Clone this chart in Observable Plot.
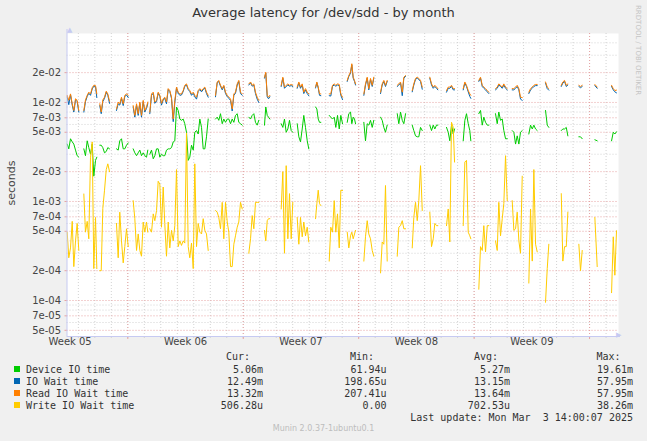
<!DOCTYPE html>
<html><head><meta charset="utf-8">
<script src="https://cdn.jsdelivr.net/npm/d3@7"></script>
<script src="https://cdn.jsdelivr.net/npm/@observablehq/plot@0.6"></script>
<style>
html,body{margin:0;padding:0;background:#f0f0f0;}
#page{position:relative;width:647px;height:441px;overflow:hidden;background:#f0f0f0;}
#chart{position:absolute;left:0;top:0;}
.a{position:absolute;white-space:pre;line-height:12px;}
.mono{font-family:"DejaVu Sans Mono",monospace;font-size:10px;color:#333;}
.r{text-align:right;}
.sw{position:absolute;width:6px;height:6px;}
</style></head>
<body><div id="page"><div id="chart"></div></div>
<script>
// ---- data ----
// sample times, hours after 2025-01-29 07:30 UTC; null values mark gaps
const hours = [
0.3,2.6,5.1,7.6,9.9,12.4,14.8,17.2,19,
24.5,26.9,29.4,31.7,34.2,36.7,39.0,41.5,43.4,45,
47.7,49.8,52.1,54.6,57.1,59.4,61.9,66,
72.0,74.5,76.8,79.3,81.8,84.1,86.6,89.1,92,
96.3,98.7,101.2,103.6,106.0,108.4,110.9,113.2,115.7,117.6,118.6,
120.5,123.0,125.5,127.8,130.3,132.7,135.1,137.5,140.0,142.3,144.8,147.3,149.6,152.1,154.6,156.9,
159.4,161.8,164.2,166.6,169.1,171.4,173.9,176.4,178.7,181.2,183.7,186.0,188.5,
190.9,193.3,195.8,198.2,200.6,203.0,205.5,210,
216.1,218.6,220.9,223.4,225.9,228.2,230.7,233.2,235.5,238.0,240.4,242.8,245.2,247.7,250.0,252.5,255.0,259,
264.6,267.1,269.5,271.9,274.3,276.8,279.1,283,
287.4,289.3,291.4,293.3,295.2,300,
311.7,314.1,316.5,319.0,321.4,323.8,326.3,328.6,331,
335.0,337.4,339.8,342.3,344.6,347.1,349.6,351.9,356,
361.7,363.6,365.6,367.5,369.4,375,
381.6,383.9,386.4,388.9,391.2,393.7,396.2,398.5,401.0,404,
407.8,410.1,412.6,414.5,416.5,418.4,419.9,425,
432.0,434.4,436.9,439.2,441.7,444.2,446.5,450,
456.3,458.7,461.1,463.5,466.0,472,
480.6,482.9,485.4,487.9,490.2,492.7,497,
502.4,504.7,507.2,509.7,512.0,514.5,517.0,522,
528.0,530.5,533.0,535.3,537.8,539.7,545,
552.3,554.8,557.1,559.6,562.1,564.0,569,
576.6,579.0,581.4,583.9,586.2,587.7,593,
599.3,601.8,604.3,606.6,609.1,611.6,613.9,618,
623.6,626.1,628.4,630.9,633.4,635.7,638.2,640.7,644,
647.9,650.3,652.8,655.2,657.6,660.0,662.5,667,
672.1,674.6,677.1,679.4,681.9,684.3,690,
696.4,698.9,701.2,710,
719.3,721.6,724.1,726.6,728.9,736,
744.9,747.3,749.8,760,
768.2,771.6,782,
792.5,795.0,797.3,799.7
];
const deviceIO = [
0.0038,0.0034,0.0043,0.0040,0.0038,0.0033,0.0029,0.0028,null,
0.0034,0.0029,0.0041,0.0035,0.0030,0.0038,0.0018,0.0026,0.0028,null,
0.0037,0.0037,0.0035,0.0031,0.0032,0.0035,0.0034,null,
0.0034,0.0033,0.0041,0.0043,0.0034,0.0034,0.0037,0.0039,null,
0.0034,0.0031,0.0029,0.0031,0.0033,0.0029,0.0031,0.0029,0.0028,0.0033,null,
0.0030,0.0033,0.0027,0.0029,0.0034,0.0034,0.0028,0.0030,0.0029,0.0029,0.0033,0.0034,0.0034,0.0035,0.0040,0.0041,
0.0090,0.0083,0.0068,0.0066,0.0068,0.0061,0.0050,0.0026,0.0028,0.0037,0.0033,0.0050,0.0052,
0.0048,0.0068,0.0056,0.0034,0.0034,0.0045,0.0068,null,
0.0068,0.0071,0.0066,0.0077,0.0061,0.0068,0.0063,0.0068,0.0068,0.0061,0.0068,0.0063,0.0074,0.0077,0.0063,0.0061,0.0059,null,
0.0071,0.0068,0.0074,0.0077,0.0063,0.0059,0.0066,null,
0.0059,0.0090,0.0074,0.0071,0.0068,null,
0.0061,0.0056,0.0068,0.0050,0.0054,0.0066,0.0052,0.0050,null,
0.0061,0.0045,0.0040,0.0054,0.0074,0.0056,0.0041,0.0034,null,
0.0090,0.0086,0.0068,0.0063,0.0063,null,
0.0074,0.0071,0.0068,0.0071,0.0056,0.0074,0.0054,0.0074,0.0061,null,
0.0063,0.0077,0.0080,0.0061,0.0071,0.0068,0.0061,null,
0.0063,0.0041,0.0061,0.0059,0.0066,0.0056,0.0066,null,
0.0071,0.0066,0.0056,0.0050,0.0059,null,
0.0077,0.0061,0.0080,0.0066,0.0061,0.0077,null,
0.0059,0.0052,0.0046,0.0045,0.0045,0.0056,0.0052,null,
0.0059,0.0052,0.0059,0.0054,0.0059,0.0059,null,
0.0056,0.0050,0.0041,0.0059,0.0048,0.0054,null,
0.0041,0.0066,0.0077,0.0061,0.0052,0.0041,null,
0.0077,0.0083,0.0059,0.0071,0.0063,0.0059,0.0059,null,
0.0077,0.0061,0.0080,0.0066,0.0068,0.0052,0.0043,0.0043,null,
0.0052,0.0050,0.0038,0.0046,0.0038,0.0050,0.0052,null,
0.0048,0.0059,0.0054,0.0059,0.0054,0.0052,null,
0.0083,0.0059,0.0056,null,
0.0052,0.0054,0.0054,0.0056,0.0046,null,
0.0045,0.0045,0.0043,null,
0.0042,0.0041,null,
0.0041,0.0050,0.0048,0.00506
];
const ioWait = [
0.0114,0.0095,0.0120,0.0094,0.0080,0.0106,0.0102,0.0080,null,
0.0080,0.0102,0.0115,0.0124,0.0118,0.0137,0.0146,0.0145,0.0112,null,
0.0093,0.0077,0.0102,0.0110,0.0127,0.0118,0.0098,null,
0.0083,0.0097,0.0094,0.0110,0.0093,0.0115,0.0119,0.0112,null,
0.0090,0.0071,0.0094,0.0074,0.0098,0.0071,0.0102,0.0080,0.0087,0.0097,null,
0.0077,0.0118,0.0124,0.0098,0.0102,0.0124,0.0115,0.0094,0.0106,0.0110,0.0097,0.0135,0.0129,0.0110,0.0064,0.0100,
0.0140,0.0124,0.0118,0.0119,0.0129,0.0146,0.0150,0.0135,0.0129,0.0118,0.0124,0.0114,0.0108,
0.0129,0.0135,0.0128,0.0135,0.0140,0.0123,0.0113,null,
0.0114,0.0158,0.0163,0.0146,0.0134,0.0146,0.0123,0.0115,0.0110,0.0105,0.0082,0.0118,0.0124,0.0150,0.0163,0.0123,0.0118,null,
0.0150,0.0158,0.0146,0.0150,0.0123,0.0108,0.0100,null,
0.0176,0.0198,0.0114,0.0109,0.0114,null,
0.0145,0.0176,0.0139,0.0145,0.0150,0.0146,0.0148,0.0145,null,
0.0139,0.0157,0.0139,0.0150,0.0123,0.0134,0.0123,0.0117,null,
0.0140,0.0158,0.0140,0.0118,0.0117,null,
0.0117,0.0116,0.0146,0.0150,0.0146,0.0150,0.0148,0.0118,0.0107,null,
0.0163,0.0183,0.0198,0.0240,0.0176,0.0163,0.0150,null,
0.0118,0.0150,0.0176,0.0134,0.0171,0.0145,0.0176,null,
0.0123,0.0150,0.0163,0.0145,0.0163,null,
0.0145,0.0150,0.0157,0.0117,0.0176,0.0183,null,
0.0128,0.0150,0.0171,0.0176,0.0171,0.0163,0.0136,null,
0.0176,0.0150,0.0139,0.0145,0.0139,0.0134,null,
0.0127,0.0139,0.0139,0.0145,0.0134,0.0134,null,
0.0134,0.0157,0.0145,0.0128,0.0115,0.0110,null,
0.0163,0.0176,0.0145,0.0139,0.0134,0.0128,0.0123,null,
0.0134,0.0139,0.0150,0.0145,0.0139,0.0150,0.0139,0.0134,null,
0.0134,0.0134,0.0139,0.0145,0.0134,0.0108,0.0105,null,
0.0123,0.0134,0.0139,0.0145,0.0148,0.0148,null,
0.0157,0.0138,0.0133,null,
0.0145,0.0157,0.0163,0.0145,0.0150,null,
0.0145,0.0141,0.0145,null,
0.0148,0.0139,null,
0.0145,0.0134,0.0128,0.01249
];
const readWait = [
0.0118,0.0105,0.0122,0.0097,0.0083,0.0109,0.0105,0.0083,null,
0.0083,0.0106,0.0118,0.0127,0.0122,0.0141,0.0149,0.0148,0.0122,null,
0.0097,0.0080,0.0106,0.0113,0.0130,0.0122,0.0103,null,
0.0086,0.0101,0.0097,0.0113,0.0097,0.0118,0.0122,0.0118,null,
0.0093,0.0074,0.0097,0.0077,0.0101,0.0074,0.0105,0.0083,0.0090,0.0101,null,
0.0080,0.0122,0.0127,0.0101,0.0105,0.0127,0.0118,0.0098,0.0109,0.0113,0.0101,0.0138,0.0132,0.0113,0.0068,0.0105,
0.0143,0.0127,0.0122,0.0122,0.0132,0.0149,0.0154,0.0138,0.0132,0.0122,0.0127,0.0118,0.0113,
0.0132,0.0138,0.0132,0.0138,0.0143,0.0127,0.0118,null,
0.0118,0.0161,0.0167,0.0149,0.0138,0.0149,0.0127,0.0118,0.0113,0.0109,0.0086,0.0122,0.0127,0.0154,0.0167,0.0127,0.0122,null,
0.0154,0.0161,0.0149,0.0154,0.0127,0.0113,0.0105,null,
0.0180,0.0202,0.0118,0.0113,0.0118,null,
0.0149,0.0180,0.0143,0.0149,0.0154,0.0149,0.0152,0.0149,null,
0.0143,0.0161,0.0143,0.0154,0.0127,0.0138,0.0127,0.0122,null,
0.0143,0.0161,0.0143,0.0122,0.0122,null,
0.0122,0.0122,0.0149,0.0154,0.0149,0.0154,0.0152,0.0122,0.0113,null,
0.0167,0.0187,0.0202,0.0246,0.0180,0.0167,0.0154,null,
0.0122,0.0154,0.0180,0.0138,0.0175,0.0149,0.0180,null,
0.0127,0.0154,0.0167,0.0149,0.0167,null,
0.0149,0.0154,0.0161,0.0127,0.0180,0.0187,null,
0.0132,0.0154,0.0175,0.0180,0.0175,0.0167,0.0143,null,
0.0180,0.0154,0.0143,0.0149,0.0143,0.0138,null,
0.0132,0.0143,0.0143,0.0149,0.0138,0.0138,null,
0.0138,0.0161,0.0149,0.0132,0.0122,0.0118,null,
0.0167,0.0180,0.0149,0.0143,0.0138,0.0132,0.0127,null,
0.0138,0.0143,0.0154,0.0149,0.0143,0.0154,0.0143,0.0138,null,
0.0138,0.0138,0.0143,0.0149,0.0138,0.0113,0.0112,null,
0.0127,0.0138,0.0143,0.0149,0.0152,0.0152,null,
0.0161,0.0143,0.0138,null,
0.0149,0.0161,0.0167,0.0149,0.0154,null,
0.0149,0.0145,0.0149,null,
0.0152,0.0143,null,
0.0149,0.0138,0.0132,0.01332
];
const writeWait = [
0.00049,0.00027,0.00034,0.00063,0.00022,0.00040,0.00060,0.00032,null,
0.00119,0.00049,0.00063,0.00042,0.0028,0.0040,0.00021,0.00069,0.00021,null,
0.00020,0.00020,0.00085,0.0013,0.0021,0.0024,0.0020,null,
0.00060,0.00027,0.00078,0.00040,0.00024,0.00035,0.00053,0.00035,null,
0.00102,0.00067,0.00032,0.00047,0.00032,0.00028,0.00062,0.00049,0.00062,0.00049,null,
0.00053,0.00049,0.00075,0.00064,0.00081,0.0016,0.0015,0.00055,0.0014,0.00060,0.00028,0.00062,0.00034,0.00051,0.00040,0.00057,
0.0021,0.00035,0.00040,0.00036,0.00040,0.00038,0.0049,0.00035,0.00027,0.00038,0.00021,0.0024,0.00035,
0.00060,0.00049,0.00047,0.00067,0.00051,0.00047,0.00032,null,
0.00081,0.00078,0.00069,0.00053,0.00098,0.00042,0.00098,0.00062,0.00049,0.00022,0.00022,0.00037,0.00045,0.00055,0.00062,0.00098,0.00084,null,
0.00030,0.00042,0.00072,0.00053,0.00098,0.00098,0.00098,null,
0.00051,0.00040,0.00064,0.00067,0.00067,null,
0.00084,0.0020,0.00030,0.0023,0.00042,0.0012,0.00042,0.00098,null,
0.00069,0.00037,0.00069,0.00044,0.00062,0.00045,0.00055,0.00039,null,
0.00067,0.00095,0.0013,0.00095,0.00091,null,
0.00025,0.00055,0.00049,0.00102,0.00049,0.00075,0.00034,0.0013,0.00129,null,
0.00049,0.00034,0.00045,0.00049,0.00042,0.00047,0.00051,null,
0.00025,0.00044,0.00064,0.00047,0.00042,0.00032,0.00028,null,
0.00019,0.00039,0.00037,0.00145,0.00025,null,
0.00028,0.00055,0.00057,0.00064,0.00053,0.00053,null,
0.00034,0.00069,0.00098,0.00064,0.00102,0.0023,0.00081,null,
0.00078,0.00035,0.00042,0.00060,0.00057,0.00057,null,
0.00057,0.00084,0.00039,0.0063,0.0056,0.0025,null,
0.00057,0.0025,0.0026,0.00049,0.00045,0.00042,null,
0.00013,0.00035,0.00032,0.00057,0.00031,0.00057,0.00057,null,
0.00040,0.00032,0.00098,0.00045,0.00067,0.00095,0.0029,0.00102,null,
0.00102,0.00051,0.00053,0.00078,0.00040,0.00030,0.0018,null,
0.00015,0.00084,0.00025,0.0021,0.00037,0.00031,null,
0.000096,0.00021,0.00037,null,
0.0012,0.00025,0.00035,0.00035,0.00078,null,
0.00037,0.00020,0.00032,null,
0.00069,0.00022,null,
0.00012,0.00044,0.00018,0.000506
];
const yMajor = [5e-5,7e-5,1e-4,2e-4,5e-4,7e-4,1e-3,2e-3,5e-3,7e-3,1e-2,2e-2];
const yLabels = ["5e-05","7e-05","1e-04","2e-04","5e-04","7e-04","1e-03","2e-03","5e-03","7e-03","1e-02","2e-02"];
const yMinor = [6e-5,8e-5,9e-5,3e-4,4e-4,6e-4,8e-4,9e-4,3e-3,4e-3,6e-3,8e-3,9e-3,3e-2,4e-2];
const weekCenters = ["2025-01-29T12:00Z","2025-02-05T12:00Z","2025-02-12T12:00Z","2025-02-19T12:00Z","2025-02-26T12:00Z"];
const weekLabels = ["Week 05","Week 06","Week 07","Week 08","Week 09"];
const seriesNames = ["Device IO time","IO Wait time","Read IO Wait time","Write IO Wait time"];
const seriesColors = ["#00CC00","#0066B3","#FF8000","#FFCC00"];
const curVals = ["5.06m","12.49m","13.32m","506.28u"];
const minVals = ["61.94u","198.65u","207.41u","0.00"];
const avgVals = ["5.27m","13.15m","13.64m","702.53u"];
const maxVals = ["19.61m","57.95m","57.95m","38.26m"];

// ---- build ----
for (const a of [deviceIO, ioWait, readWait, writeWait]) if (a.length !== hours.length) throw new Error("length mismatch " + a.length + " vs " + hours.length);
const t0 = Date.UTC(2025, 0, 29, 7, 30);
const t1 = t0 + 802.6 * 3600e3;
const rows = hours.map((h, i) => ({t: new Date(t0 + h * 3600e3), dev: deviceIO[i], io: ioWait[i], rd: readWait[i], wr: writeWait[i]}));
const days = d3.utcDay.range(new Date(t0), new Date(t1));
const sundays = d3.utcSunday.range(new Date(t0), new Date(t1));
const ax = "#c6caf2", minorC = "#d2d2d2", majorC = "#e6a3a3";

const plot = Plot.plot({
  width: 647, height: 352,
  marginLeft: 66.5, marginRight: 29, marginTop: 33, marginBottom: 16,
  style: {background: "transparent", fontFamily: "DejaVu Sans", fontSize: "10px", overflow: "visible"},
  x: {type: "utc", domain: [new Date(t0), new Date(t1)], axis: null},
  y: {type: "log", domain: [4.33e-5, 0.0497], axis: null},
  marks: [
    Plot.frame({fill: "white", stroke: "none"}),
    Plot.ruleX(days, {stroke: minorC, strokeDasharray: "1,2"}),
    Plot.ruleY(yMinor, {stroke: minorC, strokeDasharray: "1,2"}),
    Plot.ruleX(sundays, {stroke: majorC, strokeDasharray: "1,2"}),
    Plot.ruleY(yMajor, {stroke: majorC, strokeDasharray: "1,2"}),
    Plot.ruleY(yMajor, {stroke: majorC, insetRight: 549, dx: -2}),
    Plot.ruleX(days, {stroke: minorC, insetTop: 301, dy: 2}),
    Plot.ruleX(sundays, {stroke: majorC, insetTop: 300, dy: 3}),
    Plot.line(rows, {x: "t", y: "dev", stroke: seriesColors[0], strokeWidth: 1}),
    Plot.line(rows, {x: "t", y: "io", stroke: seriesColors[1], strokeWidth: 1}),
    Plot.line(rows, {x: "t", y: "rd", stroke: seriesColors[2], strokeWidth: 1}),
    Plot.line(rows, {x: "t", y: "wr", stroke: seriesColors[3], strokeWidth: 1}),
    Plot.ruleX([new Date(t0)], {stroke: ax, insetTop: -4}),
    Plot.ruleY([4.33e-5], {stroke: ax, insetRight: -2}),
    Plot.text(["\u25B2"], {frameAnchor: "top-left", dy: -6, text: d => d, fill: ax, fontSize: 7}),
    Plot.text(["\u25B6"], {frameAnchor: "bottom-right", dx: 3, text: d => d, fill: ax, fontSize: 7}),
    Plot.text(yMajor, {y: d => d, text: (d, i) => yLabels[i], frameAnchor: "left", textAnchor: "end", dx: -6, fill: "#444", fontSize: 10}),
    Plot.text(weekCenters, {x: d => new Date(d), text: (d, i) => weekLabels[i], frameAnchor: "bottom", dy: 8, fill: "#444", fontSize: 10})
  ]
});
document.getElementById("chart").appendChild(plot);

// ---- html text ----
const page = document.getElementById("page");
function add(txt, css, cls) {
  const d = document.createElement("div");
  d.className = "a " + (cls || "");
  d.textContent = txt;
  Object.assign(d.style, css);
  page.appendChild(d);
  return d;
}
add("Average latency for /dev/sdd - by month", {left: "0px", width: "647px", top: "6px", textAlign: "center", font: "13px 'DejaVu Sans'", color: "#333", lineHeight: "14px"});
add("seconds", {left: "11px", top: "183px", font: "11px 'DejaVu Sans'", color: "#444", transform: "translate(-50%,-50%) rotate(-90deg)"});
add("RRDTOOL / TOBI OETIKER", {left: "633px", top: "5px", font: "7px 'DejaVu Sans'", color: "#c4c4c4", writingMode: "vertical-rl", lineHeight: "10px"});
const hdr = [["Cur:", 250], ["Min:", 374], ["Avg:", 498], ["Max:", 620.5]];
for (const [t, r] of hdr) add(t, {left: (r - 100) + "px", width: "100px", top: "351px"}, "mono r");
const rowsY = [369.5, 381.5, 393.5, 405.5];
const cols = [[curVals, 263], [minVals, 386.5], [avgVals, 510], [maxVals, 633]];
seriesNames.forEach((n, i) => {
  const y = rowsY[i];
  const sw = document.createElement("div");
  sw.className = "sw";
  Object.assign(sw.style, {left: "14px", top: (y - 3.5) + "px", background: seriesColors[i]});
  page.appendChild(sw);
  add(n, {left: "26px", top: (y - 6) + "px"}, "mono");
  for (const [arr, r] of cols) add(arr[i], {left: (r - 100) + "px", width: "100px", top: (y - 6) + "px"}, "mono r");
});
add("Last update: Mon Mar  3 14:00:07 2025", {left: "333px", width: "300px", top: "411.5px"}, "mono r");
add("Munin 2.0.37-1ubuntu0.1", {left: "0px", width: "647px", top: "424px", textAlign: "center", font: "8px 'DejaVu Sans'", color: "#bdbdbd"});
</script>
</body></html>
